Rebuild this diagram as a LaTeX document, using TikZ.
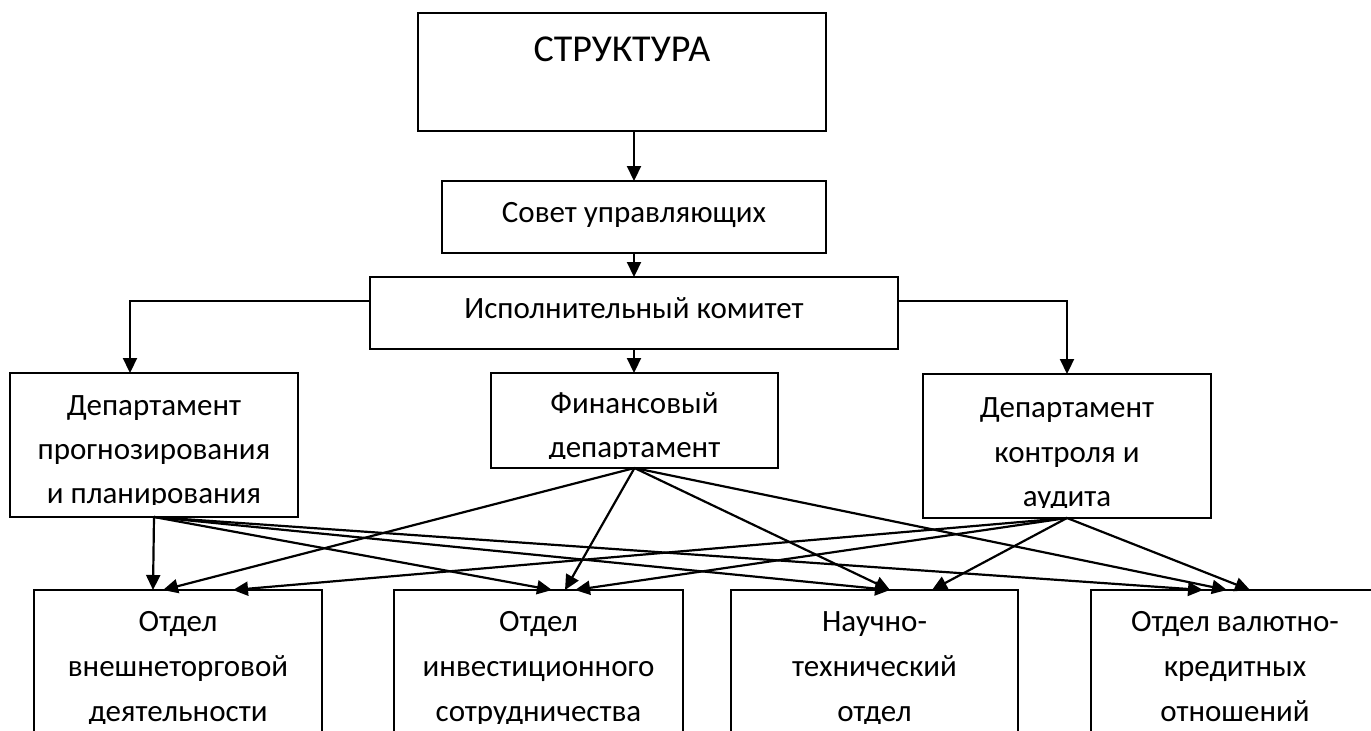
\documentclass[tikz,border=0pt]{standalone}
\usepackage{fontspec}
\setmainfont{Carlito}
\usetikzlibrary{arrows.meta}
\begin{document}
\begin{tikzpicture}[x=1pt,y=-1pt,
  box/.style={draw,line width=1.5pt,inner sep=0pt,outer sep=0pt},
  txt/.style={inner sep=0pt,anchor=base,font=\fontsize{31}{44}\selectfont},
  bigtxt/.style={inner sep=0pt,anchor=base,font=\fontsize{38}{44}\selectfont},
  conn/.style={line width=2.2pt,-{Triangle[length=15pt,width=14pt]}}]
\useasboundingbox (0,0) rectangle (1371,731);
\clip (0,0) rectangle (1371,731);
% boxes
\node[box,minimum width=408pt,minimum height=118pt] (struct) at (622,72) {};
\node[box,minimum width=384pt,minimum height=72pt] (sovet) at (634,217) {};
\node[box,minimum width=528pt,minimum height=72pt] (isp) at (634,313) {};
\node[box,minimum width=288pt,minimum height=144pt] (dp) at (154,445) {};
\node[box,minimum width=287pt,minimum height=95pt] (fin) at (634.5,420.5) {};
\node[box,minimum width=288pt,minimum height=144pt] (dc) at (1067,446) {};
\node[box,minimum width=288pt,minimum height=170pt] (b1) at (178,675) {};
\node[box,minimum width=289pt,minimum height=170pt] (b2) at (538.5,675) {};
\node[box,minimum width=287pt,minimum height=170pt] (b3) at (874.5,675) {};
\node[box,minimum width=288pt,minimum height=170pt] (b4) at (1235,675) {};
% texts
\node[bigtxt] (structT) at (622,61) {СТРУКТУРА};
\node[txt] (sovetT) at (634,222) {Совет управляющих};
\node[txt] (ispT) at (634,318) {Исполнительный комитет};
\begin{scope}
\clip (dp.north west) rectangle ([yshift=13pt]dp.south east);
\node[txt] (dpT1) at (154,415) {Департамент};
\node[txt] (dpT2) at (154,459) {прогнозирования};
\node[txt] (dpT3) at (154,503) {и планирования};
\end{scope}
\begin{scope}
\clip (fin.north west) rectangle ([yshift=10pt]fin.south east);
\node[txt] (finT1) at (634.5,413) {Финансовый};
\node[txt] (finT2) at (634.5,457) {департамент};
\end{scope}
\begin{scope}
\clip (dc.north west) rectangle ([yshift=11pt]dc.south east);
\node[txt] (dcT1) at (1067,417) {Департамент};
\node[txt] (dcT2) at (1067,462) {контроля и};
\node[txt] (dcT3) at (1067,506) {аудита};
\end{scope}
\begin{scope}
\clip (0,590) rectangle (1371,723);
\node[txt] (b1T1) at (178,631) {Отдел};
\node[txt] (b1T2) at (178,676) {внешнеторговой};
\node[txt] (b1T3) at (178,721) {деятельности};
\node[txt] (b2T1) at (538.5,631) {Отдел};
\node[txt] (b2T2) at (538.5,676) {инвестиционного};
\node[txt] (b2T3) at (538.5,721) {сотрудничества};
\node[txt] (b3T1) at (874.5,631) {Научно-};
\node[txt] (b3T2) at (874.5,676) {технический};
\node[txt] (b3T3) at (874.5,721) {отдел};
\node[txt] (b4T1) at (1235,631) {Отдел валютно-};
\node[txt] (b4T2) at (1235,676) {кредитных};
\node[txt] (b4T3) at (1235,721) {отношений};
\end{scope}
% connectors
\draw[conn] (struct.south -| sovet.north) -- (sovet.north);
\draw[conn] (sovet.south) -- (isp.north);
\draw[conn] (isp.south) -- (isp.south |- fin.north);
\draw[conn] ([yshift=12pt]isp.west) -| ([xshift=-24pt]dp.north);
\draw[conn] ([yshift=12pt]isp.east) -| (dc.north);
% from dp
\draw[conn] (dp.south) -- ([xshift=-25pt]b1.north);
\draw[conn] (dp.south) -- ([xshift=13.5pt]b2.north);
\draw[conn] (dp.south) -- ([xshift=15.5pt]b3.north);
\draw[conn] (dp.south) -- ([xshift=-32pt]b4.north);
% from fin
\draw[conn] (fin.south) -- ([xshift=-15pt]b1.north);
\draw[conn] (fin.south) -- ([xshift=26.5pt]b2.north);
\draw[conn] (fin.south) -- ([xshift=15.5pt]b3.north);
\draw[conn] (fin.south) -- ([xshift=-8pt]b4.north);
% from dc
\draw[conn] (dc.south) -- ([xshift=55pt]b1.north);
\draw[conn] (dc.south) -- ([xshift=36.5pt]b2.north);
\draw[conn] (dc.south) -- ([xshift=57.5pt]b3.north);
\draw[conn] (dc.south) -- ([xshift=15pt]b4.north);
\end{tikzpicture}
\end{document}
